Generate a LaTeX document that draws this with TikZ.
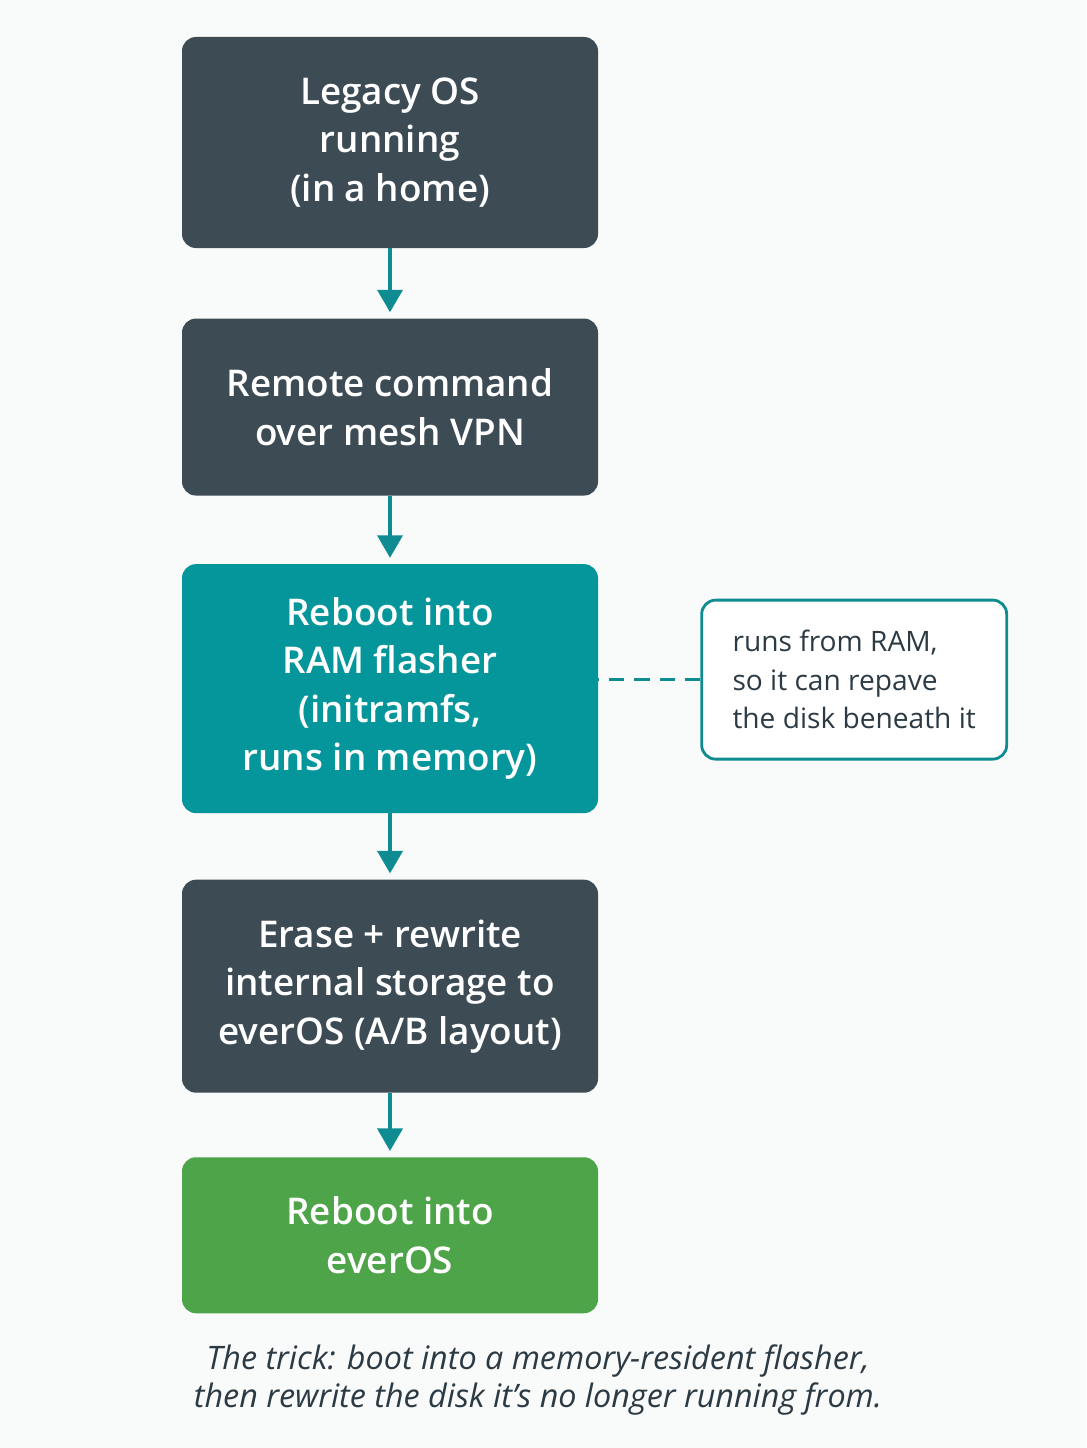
\documentclass[tikz,border=0pt]{standalone}
\usepackage{fontspec}
\setmainfont{Open Sans}
\IfFontExistsTF{Open Sans Semibold}{%
  \newfontfamily\boxfont{Open Sans Semibold}}{%
  \IfFontExistsTF{Noto Sans Medium}{%
    \newfontfamily\boxfont{Noto Sans Medium}}{%
    \newfontfamily\boxfont{Open Sans}[FakeBold=2.5]}}
\newfontfamily\capfont{Open Sans}
\usepackage{xcolor}
\usetikzlibrary{positioning, arrows.meta}

\definecolor{slate}{HTML}{3D4B55}
\definecolor{flashteal}{HTML}{04969B}
\definecolor{lineteal}{HTML}{0E8C92}
\definecolor{bootgreen}{HTML}{4EA448}
\definecolor{notetext}{HTML}{2C3A44}
\definecolor{pagebg}{HTML}{F9FAFA}

\begin{document}
\begin{tikzpicture}[
        node distance=1.7cm,
        box/.style={rectangle, rounded corners=0.35cm, minimum width=10.4cm, align=center, text=white, font=\boxfont\fontsize{26.2}{34.5}\selectfont},
        note/.style={rectangle, rounded corners=0.35cm, draw=lineteal, line width=2pt, fill=white, minimum height=3.975cm, minimum width=7.625cm, align=left, text=notetext, font=\fontsize{20}{27.5}\selectfont},
        arrow/.style={-{Triangle[width=17.7pt, length=16pt]}, line width=2.8pt, draw=lineteal, shorten >=0.15cm},
        dashline/.style={draw=lineteal, line width=2.2pt, dash pattern=on 11pt off 7pt},
    ]
        % page
        \fill[pagebg] (0,0) rectangle (27.15,-36.2);
        \useasboundingbox (0,0) rectangle (27.15,-36.2);

        % Steps
        \node[box, fill=slate, minimum height=5.275cm] (legacy) at (9.75,-3.5625) {Legacy OS\\running\\(in a home)};
        \node[box, fill=slate, minimum height=4.425cm, below=1.75cm of legacy] (remote) {Remote command\\over mesh VPN};
        \node[box, fill=flashteal, minimum height=6.225cm, below=1.7cm of remote] (flasher) {Reboot into\\RAM flasher\\(initramfs,\\runs in memory)};
        \node[box, fill=slate, minimum height=5.325cm, below=1.65cm of flasher] (erase) {Erase + rewrite\\internal storage to\\everOS (A/B layout)};
        \node[box, fill=bootgreen, minimum height=3.9cm, below=1.6cm of erase] (everos) {Reboot into\\everOS};

        % Side note
        \node[note, right=2.55cm of flasher, yshift=0.225cm] (ramnote) {runs from RAM,\\so it can repave\\the disk beneath it};

        % Caption
        \node[align=center, text=notetext, font=\capfont\itshape\fontsize{23}{26.5}\selectfont] (trick) at (13.45,-34.5) {The trick: boot into a memory-resident flasher,\\then rewrite the disk it’s no longer running from.};

        % Arrows
        \draw[arrow] (legacy) -- (remote);
        \draw[arrow] (remote) -- (flasher);
        \draw[arrow] (flasher) -- (erase);
        \draw[arrow] (erase) -- (everos);
        \draw[dashline] (ramnote.west) -- (ramnote.west -| flasher.east);

    \end{tikzpicture}
\end{document}
